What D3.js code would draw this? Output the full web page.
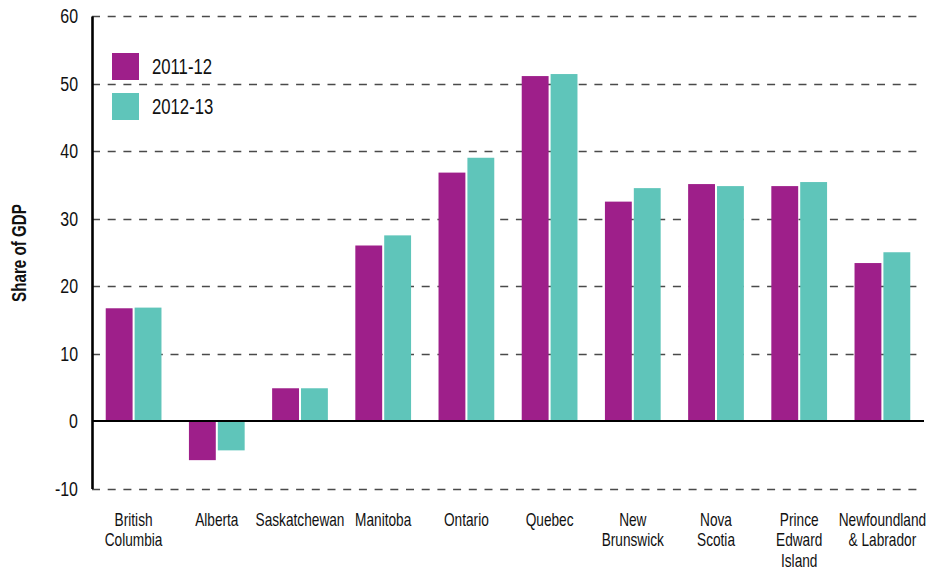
<!DOCTYPE html>
<html>
<head>
<meta charset="utf-8">
<script src="https://cdn.jsdelivr.net/npm/d3@7"></script>
<style>
  html, body { margin: 0; padding: 0; background: #fff; }
  svg { display: block; }
  text { font-family: "Liberation Sans", Arial, sans-serif; fill: #111; }
</style>
</head>
<body>
<svg id="chart" width="939" height="571"></svg>
<script>
const categories = [
  ["British", "Columbia"],
  ["Alberta"],
  ["Saskatchewan"],
  ["Manitoba"],
  ["Ontario"],
  ["Quebec"],
  ["New", "Brunswick"],
  ["Nova", "Scotia"],
  ["Prince", "Edward", "Island"],
  ["Newfoundland", "& Labrador"]
];
const seriesNames = ["2011-12", "2012-13"];
const values2011 = [16.7, -5.8, 4.85, 26.0, 36.8, 51.1, 32.5, 35.1, 34.8, 23.4];
const values2012 = [16.8, -4.35, 4.85, 27.5, 39.0, 51.4, 34.5, 34.8, 35.4, 25.0];
const yTicks = [-10, 0, 10, 20, 30, 40, 50, 60];
const colors = ["#9E1F8A", "#5FC5BA"];
const yTitle = "Share of GDP";

const SX = 0.76; // horizontal condensing to mimic a condensed typeface
const svg = d3.select("#chart");
const mLeft = 92, mRight = 924, mTop = 16, mBottom = 488.5;

const keys = categories.map(c => c.join(" "));
const x0 = d3.scaleBand().domain(keys).range([mLeft, mRight]).paddingInner(0.33).paddingOuter(0.165);
const x1 = d3.scaleBand().domain(seriesNames).range([0, x0.bandwidth()]).paddingInner(0.07).paddingOuter(0);
const y = d3.scaleLinear().domain([-10, 60]).range([mBottom, mTop]);
const color = d3.scaleOrdinal().domain(seriesNames).range(colors);

const data = keys.map((k, i) => ({ key: k, lines: categories[i], vals: [values2011[i], values2012[i]] }));

// gridlines
svg.append("g").selectAll("line")
  .data(yTicks.filter(t => t !== 0))
  .join("line")
  .attr("x1", mLeft).attr("x2", mRight)
  .attr("y1", d => Math.round(y(d)) + 0.5).attr("y2", d => Math.round(y(d)) + 0.5)
  .attr("stroke", "#4a4a4a").attr("stroke-width", 1.4)
  .attr("stroke-dasharray", "8,7.7");

// bars
const groups = svg.append("g").selectAll("g")
  .data(data).join("g")
  .attr("transform", d => `translate(${x0(d.key)},0)`);
groups.selectAll("rect")
  .data(d => d.vals.map((v, j) => ({ s: seriesNames[j], v })))
  .join("rect")
  .attr("x", d => x1(d.s))
  .attr("width", x1.bandwidth())
  .attr("y", d => y(Math.max(0, d.v)))
  .attr("height", d => Math.abs(y(d.v) - y(0)))
  .attr("fill", d => color(d.s));

// zero line
svg.append("line")
  .attr("x1", mLeft).attr("x2", mRight)
  .attr("y1", y(0)).attr("y2", y(0))
  .attr("stroke", "#000").attr("stroke-width", 2.2);

// y axis
const yAxis = d3.axisLeft(y).tickValues(yTicks).tickSize(0).tickPadding(14).tickFormat(d => String(d));
const ya = svg.append("g").attr("transform", `translate(${mLeft},0)`).call(yAxis);
ya.select(".domain").attr("stroke", "#000").attr("stroke-width", 2.6);
ya.selectAll(".tick text")
  .attr("font-size", 21).attr("fill", "#111")
  .style("font-family", '"Liberation Sans", Arial, sans-serif')
  .attr("x", -14 / SX)
  .attr("transform", `scale(${SX},1)`);

// x labels
const xl = svg.append("g");
data.forEach(d => {
  const cx = x0(d.key) + x0.bandwidth() / 2;
  const t = xl.append("g").attr("transform", `translate(${cx},0)`)
    .append("text").attr("text-anchor", "middle").attr("font-size", 18)
    .attr("transform", `scale(${SX},1)`);
  d.lines.forEach((ln, i) => {
    t.append("tspan").attr("x", 0).attr("y", 526 + i * 20.5).text(ln);
  });
});

// y title
svg.append("g").attr("transform", `translate(26,253) rotate(-90)`)
  .append("text")
  .attr("text-anchor", "middle")
  .attr("font-size", 20).attr("font-weight", "bold")
  .attr("transform", `scale(${SX},1)`)
  .text(yTitle);

// legend
const lg = svg.append("g");
seriesNames.forEach((s, i) => {
  lg.append("rect").attr("x", 112).attr("y", 53 + i * 40).attr("width", 27).attr("height", 27).attr("fill", color(s));
  lg.append("g").attr("transform", `translate(152,${74 + i * 40})`)
    .append("text").attr("font-size", 22).attr("transform", `scale(${SX},1)`).text(s);
});
</script>
</body>
</html>
